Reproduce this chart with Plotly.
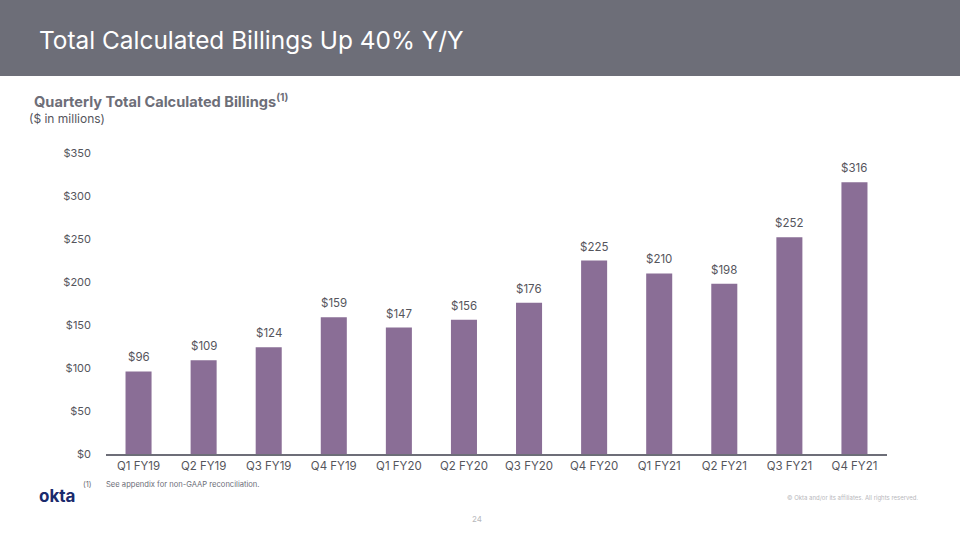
import plotly.graph_objects as go

categories = ["Q1 FY19", "Q2 FY19", "Q3 FY19", "Q4 FY19", "Q1 FY20", "Q2 FY20",
              "Q3 FY20", "Q4 FY20", "Q1 FY21", "Q2 FY21", "Q3 FY21", "Q4 FY21"]
billings = [96, 109, 124, 159, 147, 156, 176, 225, 210, 198, 252, 316]
tick_vals = [0, 50, 100, 150, 200, 250, 300, 350]
tick_text = ["$0", "$50", "$100", "$150", "$200", "$250", "$300", "$350"]

FONT = "Inter, 'Open Sans', Arial, sans-serif"

fig = go.Figure()
fig.add_trace(go.Bar(
    x=categories, y=billings,
    marker=dict(color="#8a6e96", line=dict(width=0)),
    width=0.4,
    cliponaxis=False,
))

# value labels above bars
for c, v in zip(categories, billings):
    fig.add_annotation(x=c, y=v, xref="x", yref="y", text=f"${v}", showarrow=False,
                       yanchor="bottom", yshift=5,
                       font=dict(size=11.5, color="#55555c", family=FONT))

fig.update_layout(
    width=960, height=540,
    margin=dict(l=106, r=73, t=153, b=86),
    paper_bgcolor="white", plot_bgcolor="white",
    showlegend=False,
    font=dict(family=FONT),
    xaxis=dict(showgrid=False, showline=True, linecolor="#6d6e78", linewidth=2,
               ticks="", tickfont=dict(size=11.5, color="#55555c"), fixedrange=True),
    yaxis=dict(range=[0, 350], showgrid=False, zeroline=False, showline=False,
               tickvals=tick_vals, ticktext=tick_text, ticks="", ticklabelstandoff=14,
               tickfont=dict(size=11, color="#55555c"), fixedrange=True),
)


def px_x(x):
    return (x - 106) / 781


def px_y(y):
    return (454 - y) / 301


fig.update_layout(shapes=[dict(type="rect", xref="paper", yref="paper",
                               x0=px_x(0), x1=px_x(960), y0=px_y(76), y1=px_y(0),
                               fillcolor="#6d6e78", line=dict(width=0), layer="below")])

annos = [
    dict(text="Total Calculated Billings Up 40% Y/Y", x=px_x(37), y=px_y(40),
         font=dict(size=24.4, color="white", family=FONT), xanchor="left", yanchor="middle"),
    dict(text="<b>Quarterly Total Calculated Billings<sup>(1)</sup></b>", x=px_x(32), y=px_y(101),
         font=dict(size=14.6, color="#6d6e78", family=FONT), xanchor="left", yanchor="middle"),
    dict(text="($ in millions)", x=px_x(27), y=px_y(119),
         font=dict(size=12, color="#55555c", family=FONT), xanchor="left", yanchor="middle"),
    dict(text="(1)", x=px_x(81), y=px_y(485),
         font=dict(size=7.6, color="#6d6e78", family=FONT), xanchor="left", yanchor="middle"),
    dict(text="See appendix for non-GAAP reconciliation.", x=px_x(104), y=px_y(485),
         font=dict(size=7.6, color="#6d6e78", family=FONT), xanchor="left", yanchor="middle"),
    dict(text="<b>okta</b>", x=px_x(37), y=px_y(496),
         font=dict(size=17, color="#1a2a6c", family=FONT), xanchor="left", yanchor="middle"),
    dict(text="© Okta and/or its affiliates. All rights reserved.", x=px_x(921), y=px_y(498),
         font=dict(size=6, color="#b8b8bc", family=FONT), xanchor="right", yanchor="middle"),
    dict(text="24", x=px_x(477), y=px_y(519),
         font=dict(size=8, color="#b8b8bc", family=FONT), xanchor="center", yanchor="middle"),
]
for a in annos:
    a.update(xref="paper", yref="paper", showarrow=False)
    fig.add_annotation(**a)

fig.write_html("out.html", config={"displayModeBar": False},
               post_script="document.body.style.margin='0';document.body.style.padding='0';")
